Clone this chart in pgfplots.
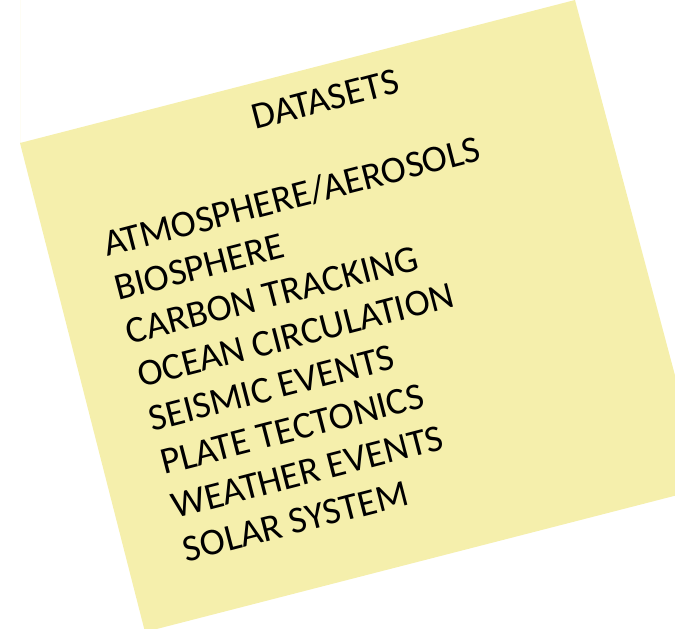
\documentclass[border=0pt]{standalone}
\usepackage{pgfplots}
\pgfplotsset{compat=1.18}
\usepackage{fontspec}
\setmainfont{Carlito}
\definecolor{notefill}{RGB}{245,239,172}

\begin{document}
\begin{tikzpicture}
\begin{axis}[
  scale only axis,
  width=675bp, height=629bp,
  xmin=0, xmax=675, ymin=0, ymax=629,
  y dir=reverse,
  hide axis,
  clip=true,
]
% the sticky note, corners in pixel coordinates of the picture
\addplot[draw=none, fill=notefill] coordinates {
  (20,143) (575,0) (705,488) (145,632) (20,143)
} \closedcycle;

\begin{scope}[every node/.style={anchor=base west, rotate=14.5, inner sep=0pt,
    font=\fontsize{38}{44}\selectfont, text=black}]
\node at (axis cs:255,130) {DATASETS};
\node at (axis cs:107,257)   {ATMOSPHERE/AEROSOLS};
\node at (axis cs:118.4,300.6) {BIOSPHERE};
\node at (axis cs:129.8,344.2) {CARBON TRACKING};
\node at (axis cs:141.2,387.8) {OCEAN CIRCULATION};
\node at (axis cs:152.6,431.4) {SEISMIC EVENTS};
\node at (axis cs:164,475)   {PLATE TECTONICS};
\node at (axis cs:175.4,518.6) {WEATHER EVENTS};
\node at (axis cs:186.8,562.2) {SOLAR SYSTEM};
\end{scope}
\end{axis}
\pgfresetboundingbox
\path (0,0) rectangle (675bp,629bp);
\end{tikzpicture}
\end{document}
